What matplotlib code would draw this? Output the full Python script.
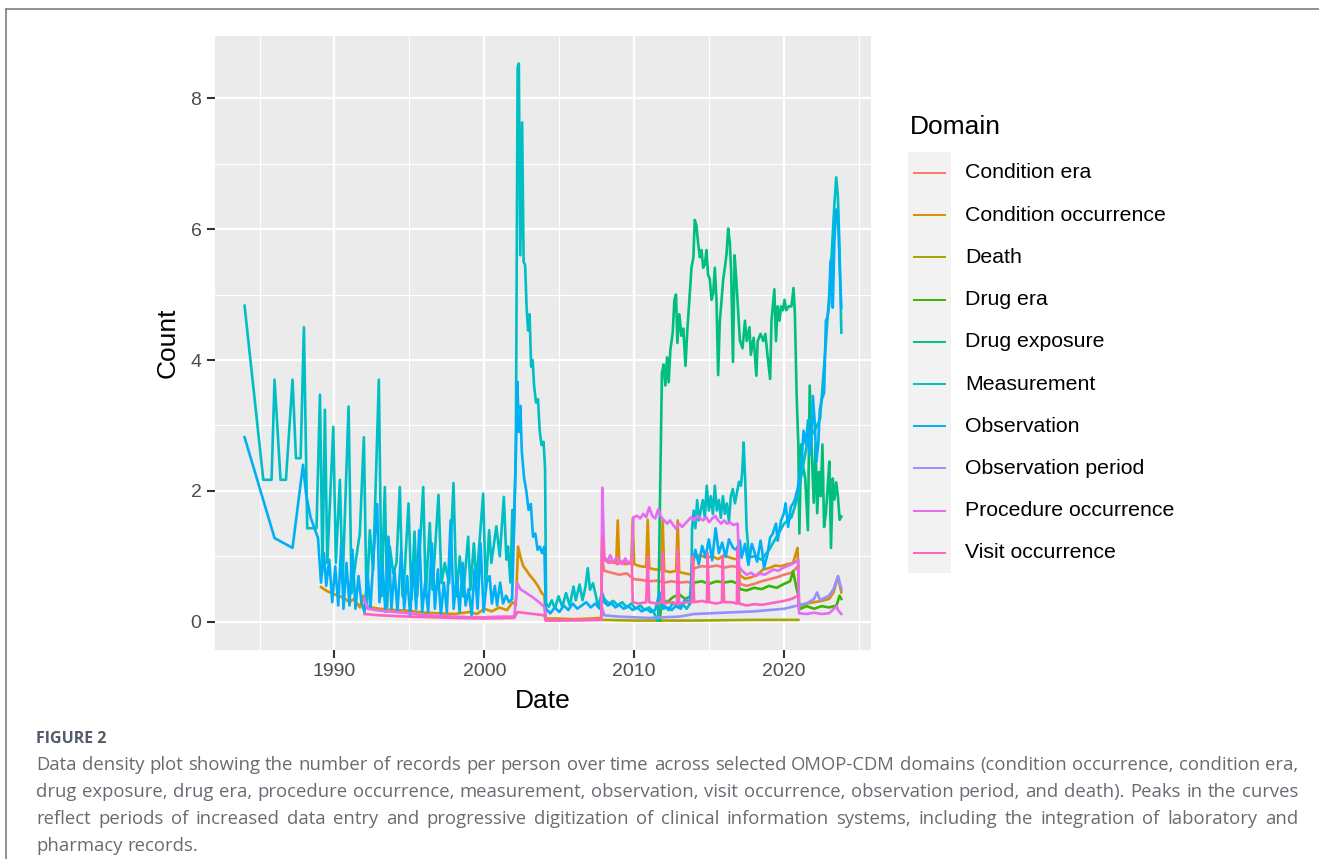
"""
Data density plot (records per person over time, OMOP-CDM domains)
"""
import matplotlib.pyplot as plt
from matplotlib.patches import Rectangle

# ---- data (decimal year, count) ----
condition_era = [
    (2007.87, 0.95), (2008.00, 0.78), (2008.50, 0.75), (2009.00, 0.72), (2009.50, 0.74),
    (2010.00, 0.65), (2010.50, 0.64), (2011.00, 0.62), (2011.50, 0.63), (2012.00, 0.60),
    (2012.50, 0.62), (2013.00, 0.60), (2013.50, 0.61), (2013.85, 0.60), (2014.00, 0.82),
    (2014.50, 0.85), (2015.00, 0.84), (2015.50, 0.86), (2016.00, 0.83), (2016.50, 0.85),
    (2016.95, 0.84), (2017.05, 0.58), (2017.50, 0.55), (2018.00, 0.58), (2018.50, 0.62),
    (2019.00, 0.65), (2019.50, 0.68), (2020.00, 0.72), (2020.50, 0.75), (2020.95, 0.85),
]

condition_occurrence = [
    (1989.10, 0.53), (1989.50, 0.47), (1990.00, 0.42), (1990.60, 0.37), (1991.00, 0.30),
    (1991.30, 0.35), (1991.70, 0.22), (1991.90, 0.40), (1992.10, 0.25), (1992.50, 0.22),
    (1993.00, 0.20), (1994.00, 0.18), (1995.00, 0.17), (1996.00, 0.14), (1997.00, 0.13),
    (1998.00, 0.12), (1999.00, 0.15), (1999.50, 0.12), (2000.00, 0.20), (2000.50, 0.16),
    (2001.00, 0.22), (2001.50, 0.18), (2001.90, 0.30), (2002.10, 0.25), (2002.25, 1.15),
    (2002.40, 1.00), (2002.60, 0.85), (2002.80, 0.79), (2003.00, 0.72), (2003.30, 0.64),
    (2003.60, 0.54), (2003.80, 0.45), (2004.00, 0.40), (2004.10, 0.05), (2005.00, 0.05),
    (2006.00, 0.04), (2007.00, 0.05), (2007.80, 0.06), (2007.87, 1.37), (2008.00, 0.95),
    (2008.40, 0.92), (2008.80, 0.90), (2008.90, 1.55), (2009.00, 0.92), (2009.40, 0.88),
    (2009.80, 0.90), (2009.90, 1.58), (2010.00, 0.88), (2010.40, 0.85), (2010.80, 0.84),
    (2010.90, 1.56), (2011.00, 0.82), (2011.40, 0.80), (2011.80, 0.80), (2011.90, 1.55),
    (2012.00, 0.78), (2012.40, 0.76), (2012.80, 0.78), (2012.90, 1.55), (2013.00, 0.76),
    (2013.40, 0.74), (2013.85, 0.72), (2014.00, 0.98), (2014.40, 1.02), (2014.80, 0.98),
    (2015.20, 1.00), (2015.60, 0.96), (2016.00, 1.02), (2016.40, 0.98), (2016.90, 0.95),
    (2017.05, 0.71), (2017.40, 0.66), (2017.80, 0.68), (2018.20, 0.72), (2018.60, 0.80),
    (2019.00, 0.82), (2019.40, 0.86), (2019.80, 0.85), (2020.20, 0.88), (2020.60, 0.90),
    (2020.90, 1.13), (2021.00, 0.24), (2021.50, 0.28), (2022.00, 0.30), (2022.50, 0.32),
    (2023.00, 0.35), (2023.30, 0.45), (2023.60, 0.69), (2023.70, 0.58), (2023.82, 0.45),
]

death = [
    (2007.87, 0.03), (2010.00, 0.02), (2014.00, 0.02), (2018.00, 0.03), (2020.95, 0.03),
]

drug_era = [
    (2011.70, 0.02), (2011.85, 0.35), (2012.20, 0.30), (2012.60, 0.38), (2013.00, 0.42),
    (2013.40, 0.35), (2013.85, 0.40), (2014.00, 0.60), (2014.50, 0.62), (2015.00, 0.58),
    (2015.50, 0.62), (2016.00, 0.60), (2016.50, 0.62), (2016.95, 0.58), (2017.05, 0.50),
    (2017.50, 0.48), (2018.00, 0.52), (2018.50, 0.50), (2019.00, 0.55), (2019.50, 0.52),
    (2020.00, 0.58), (2020.40, 0.62), (2020.60, 0.77), (2020.80, 0.55), (2020.95, 0.40),
    (2021.00, 0.19), (2021.50, 0.24), (2022.00, 0.20), (2022.50, 0.24), (2023.00, 0.22),
    (2023.50, 0.25), (2023.70, 0.40), (2023.82, 0.35),
]

drug_exposure = [
    (2011.60, 0.02), (2011.85, 3.80), (2011.96, 3.93), (2012.08, 3.61), (2012.19, 4.04),
    (2012.30, 3.66), (2012.41, 4.15), (2012.57, 4.42), (2012.68, 4.92), (2012.79, 5.00),
    (2012.88, 4.26), (2013.01, 4.70), (2013.15, 4.37), (2013.28, 4.48), (2013.42, 3.91),
    (2013.55, 4.48), (2013.68, 4.92), (2013.82, 5.41), (2013.95, 5.57), (2014.04, 6.14),
    (2014.15, 6.06), (2014.26, 5.79), (2014.38, 5.57), (2014.49, 5.68), (2014.60, 5.41),
    (2014.71, 5.46), (2014.82, 5.68), (2014.93, 5.30), (2015.04, 5.24), (2015.16, 4.92),
    (2015.27, 5.02), (2015.38, 5.41), (2015.49, 4.92), (2015.60, 3.77), (2015.71, 4.59),
    (2015.83, 4.92), (2015.94, 5.24), (2016.05, 5.41), (2016.16, 5.62), (2016.27, 6.01),
    (2016.38, 5.79), (2016.47, 5.34), (2016.59, 3.97), (2016.70, 5.60), (2016.82, 5.20),
    (2016.93, 4.76), (2017.05, 4.30), (2017.23, 4.18), (2017.39, 4.60), (2017.51, 4.29),
    (2017.69, 4.50), (2017.78, 4.08), (2017.97, 4.34), (2018.15, 3.76), (2018.24, 4.29),
    (2018.43, 4.40), (2018.61, 4.29), (2018.75, 4.40), (2018.89, 4.08), (2019.07, 3.71),
    (2019.16, 4.60), (2019.35, 5.08), (2019.46, 4.29), (2019.57, 4.82), (2019.69, 4.60),
    (2019.80, 4.82), (2019.92, 4.76), (2020.03, 4.92), (2020.15, 4.76), (2020.31, 4.82),
    (2020.49, 4.82), (2020.63, 5.10), (2020.72, 4.71), (2020.84, 3.45), (2020.95, 2.71),
    (2021.02, 1.35), (2021.14, 2.71), (2021.25, 2.40), (2021.41, 2.19), (2021.59, 1.40),
    (2021.71, 3.61), (2021.87, 2.45), (2021.98, 1.82), (2022.10, 2.71), (2022.21, 1.66),
    (2022.33, 2.29), (2022.44, 1.92), (2022.56, 2.71), (2022.67, 1.45), (2022.79, 1.66),
    (2022.90, 2.03), (2023.02, 2.45), (2023.13, 1.13), (2023.25, 2.19), (2023.36, 1.87),
    (2023.48, 2.13), (2023.59, 1.92), (2023.71, 1.56), (2023.82, 1.61),
]

measurement = [
    (1984.00, 4.83), (1985.25, 2.17), (1985.80, 2.17), (1986.00, 3.70), (1986.40, 2.17),
    (1986.76, 2.17), (1987.20, 3.70), (1987.43, 2.50), (1987.74, 2.50), (1987.96, 4.50),
    (1988.18, 1.43), (1988.80, 1.43), (1989.03, 3.47), (1989.20, 0.80), (1989.36, 3.24),
    (1989.52, 0.90), (1989.92, 2.98), (1990.09, 0.90), (1990.36, 2.17), (1990.54, 0.59),
    (1990.94, 3.29), (1991.14, 0.44), (1991.43, 0.95), (1991.69, 1.35), (1991.96, 2.82),
    (1992.14, 0.28), (1992.36, 1.40), (1992.58, 0.79), (1992.96, 3.70), (1993.14, 0.39),
    (1993.36, 2.06), (1993.52, 0.23), (1993.69, 1.15), (1993.92, 0.74), (1994.14, 0.90),
    (1994.36, 2.06), (1994.54, 0.39), (1994.69, 0.79), (1994.94, 1.81), (1995.14, 0.34),
    (1995.34, 1.38), (1995.52, 0.39), (1995.92, 2.06), (1996.09, 0.39), (1996.36, 1.51),
    (1996.54, 0.49), (1996.94, 1.94), (1997.14, 0.59), (1997.36, 0.90), (1997.65, 0.59),
    (1997.94, 2.12), (1998.14, 0.39), (1998.36, 1.00), (1998.58, 0.39), (1998.92, 1.30),
    (1999.07, 0.49), (1999.30, 1.20), (1999.47, 0.59), (1999.92, 1.96), (2000.09, 0.49),
    (2000.32, 1.40), (2000.47, 0.90), (2000.80, 1.46), (2001.03, 1.00), (2001.30, 1.91),
    (2001.47, 0.95), (2001.58, 1.15), (2001.74, 0.60), (2001.87, 1.71), (2001.96, 1.35),
    (2002.10, 2.50), (2002.22, 8.47), (2002.30, 8.53), (2002.40, 5.60), (2002.52, 7.63),
    (2002.62, 5.50), (2002.72, 5.45), (2002.82, 4.80), (2002.92, 4.45), (2003.02, 4.70),
    (2003.12, 3.90), (2003.22, 4.00), (2003.32, 3.60), (2003.45, 3.35), (2003.58, 3.40),
    (2003.70, 2.90), (2003.82, 2.70), (2003.95, 2.75), (2004.05, 2.35), (2004.12, 0.28),
    (2004.30, 0.23), (2004.50, 0.33), (2004.70, 0.20), (2004.95, 0.39), (2005.20, 0.23),
    (2005.45, 0.44), (2005.70, 0.25), (2005.95, 0.54), (2006.10, 0.33), (2006.35, 0.57),
    (2006.55, 0.33), (2006.75, 0.54), (2006.90, 0.82), (2007.05, 0.49), (2007.25, 0.59),
    (2007.45, 0.39), (2007.60, 0.23), (2007.85, 0.45), (2008.00, 0.35), (2008.30, 0.28),
    (2008.60, 0.32), (2008.90, 0.25), (2009.20, 0.30), (2009.50, 0.22), (2009.80, 0.28),
    (2010.10, 0.20), (2010.40, 0.25), (2010.70, 0.18), (2011.00, 0.22), (2011.30, 0.15),
    (2011.55, 0.02), (2011.70, 0.20), (2012.00, 0.25), (2012.30, 0.18), (2012.60, 0.30),
    (2012.90, 0.22), (2013.20, 0.28), (2013.50, 0.20), (2013.80, 0.30), (2013.86, 1.43),
    (2013.97, 1.70), (2014.08, 1.43), (2014.20, 1.86), (2014.31, 1.55), (2014.44, 1.70),
    (2014.58, 1.86), (2014.71, 1.59), (2014.84, 2.08), (2014.98, 1.70), (2015.11, 1.92),
    (2015.25, 1.65), (2015.38, 2.08), (2015.51, 1.70), (2015.65, 1.86), (2015.78, 1.59),
    (2015.92, 1.92), (2016.05, 1.65), (2016.18, 1.81), (2016.32, 1.54), (2016.45, 1.92),
    (2016.58, 2.03), (2016.72, 1.81), (2016.85, 1.97), (2016.99, 2.14), (2017.12, 2.08),
    (2017.21, 2.30), (2017.30, 2.74), (2017.40, 2.19), (2017.50, 1.43), (2017.66, 0.99),
    (2018.00, 1.00), (2018.50, 0.95), (2019.00, 1.10), (2019.50, 1.30), (2020.00, 1.50),
    (2020.50, 1.60), (2020.90, 1.90), (2021.20, 2.30), (2021.60, 2.80), (2022.00, 2.90),
    (2022.40, 3.10), (2022.80, 4.30), (2023.10, 5.30), (2023.36, 6.39), (2023.48, 6.79),
    (2023.59, 6.50), (2023.70, 5.70), (2023.82, 4.42),
]

observation = [
    (1984.00, 2.82), (1986.00, 1.28), (1987.20, 1.13), (1987.90, 2.40), (1988.10, 1.96),
    (1988.40, 1.60), (1988.90, 1.28), (1989.10, 0.60), (1989.30, 1.05), (1989.45, 0.55),
    (1989.65, 0.95), (1989.85, 0.30), (1990.05, 0.85), (1990.25, 0.25), (1990.45, 1.20),
    (1990.60, 0.20), (1990.80, 0.90), (1991.00, 0.25), (1991.20, 1.10), (1991.40, 0.20),
    (1991.60, 0.70), (1991.80, 0.30), (1992.00, 0.15), (1992.20, 0.75), (1992.40, 0.20),
    (1992.60, 1.00), (1992.85, 1.80), (1993.00, 0.30), (1993.20, 0.90), (1993.40, 0.15),
    (1993.60, 1.30), (1993.80, 0.20), (1994.00, 0.80), (1994.20, 0.15), (1994.45, 1.10),
    (1994.65, 0.20), (1994.85, 0.70), (1995.05, 0.10), (1995.25, 0.90), (1995.45, 0.20),
    (1995.65, 1.40), (1995.85, 0.15), (1996.05, 0.60), (1996.25, 0.15), (1996.50, 1.20),
    (1996.70, 0.20), (1996.90, 0.80), (1997.10, 0.10), (1997.30, 0.60), (1997.50, 0.15),
    (1997.75, 1.55), (1997.95, 0.20), (1998.15, 0.70), (1998.35, 0.15), (1998.55, 0.90),
    (1998.75, 0.25), (1998.95, 0.50), (1999.15, 0.10), (1999.35, 0.80), (1999.55, 0.20),
    (1999.75, 1.20), (1999.95, 0.15), (2000.15, 0.60), (2000.35, 0.70), (2000.50, 0.28),
    (2000.70, 0.55), (2000.85, 0.25), (2001.05, 0.60), (2001.25, 0.28), (2001.45, 0.40),
    (2001.65, 0.30), (2001.85, 0.35), (2002.00, 1.61), (2002.20, 3.67), (2002.30, 2.90),
    (2002.40, 3.30), (2002.50, 2.60), (2002.65, 2.20), (2002.80, 2.00), (2002.95, 1.71),
    (2003.10, 1.80), (2003.25, 1.30), (2003.40, 1.35), (2003.55, 1.10), (2003.70, 1.15),
    (2003.85, 1.05), (2004.00, 1.15), (2004.10, 0.20), (2004.40, 0.13), (2004.70, 0.22),
    (2005.00, 0.15), (2005.30, 0.25), (2005.60, 0.18), (2005.90, 0.28), (2006.20, 0.20),
    (2006.50, 0.25), (2006.80, 0.30), (2007.10, 0.22), (2007.40, 0.28), (2007.70, 0.20),
    (2007.85, 0.40), (2008.00, 0.30), (2008.25, 0.25), (2008.50, 0.28), (2008.75, 0.22),
    (2009.00, 0.26), (2009.30, 0.20), (2009.60, 0.24), (2009.90, 0.18), (2010.20, 0.22),
    (2010.50, 0.16), (2010.80, 0.20), (2011.10, 0.15), (2011.40, 0.18), (2011.70, 0.45),
    (2011.90, 0.20), (2012.20, 0.22), (2012.50, 0.18), (2012.80, 0.25), (2013.10, 0.20),
    (2013.40, 0.35), (2013.70, 0.28), (2013.86, 0.88), (2014.08, 1.10), (2014.31, 0.88),
    (2014.53, 1.16), (2014.76, 0.99), (2014.98, 1.26), (2015.20, 0.94), (2015.43, 1.43),
    (2015.65, 1.05), (2015.87, 1.21), (2016.10, 0.99), (2016.32, 1.26), (2016.59, 1.13),
    (2016.82, 1.10), (2017.05, 1.24), (2017.16, 0.98), (2017.39, 1.19), (2017.62, 0.87),
    (2017.85, 1.19), (2018.01, 1.08), (2018.20, 0.92), (2018.43, 1.24), (2018.54, 1.08),
    (2018.66, 0.82), (2018.89, 1.03), (2019.07, 1.29), (2019.23, 1.34), (2019.46, 1.50),
    (2019.57, 1.24), (2019.80, 1.55), (2019.99, 1.66), (2020.10, 1.81), (2020.27, 1.45),
    (2020.45, 1.76), (2020.61, 1.81), (2020.72, 1.87), (2020.90, 2.03), (2021.07, 2.29),
    (2021.18, 2.50), (2021.30, 2.92), (2021.46, 2.71), (2021.60, 3.08), (2021.69, 2.55),
    (2021.83, 2.82), (2021.92, 3.45), (2022.05, 3.03), (2022.15, 2.45), (2022.28, 2.71),
    (2022.38, 3.24), (2022.52, 3.40), (2022.67, 3.50), (2022.79, 4.60), (2022.90, 4.66),
    (2023.02, 4.87), (2023.09, 5.50), (2023.18, 5.55), (2023.25, 4.80), (2023.36, 5.84),
    (2023.48, 6.30), (2023.59, 6.25), (2023.70, 5.50), (2023.82, 4.80),
]

observation_period = [
    (2007.87, 0.20), (2008.00, 0.10), (2009.00, 0.08), (2010.00, 0.07), (2011.00, 0.06),
    (2012.00, 0.07), (2013.00, 0.08), (2014.00, 0.12), (2015.00, 0.13), (2016.00, 0.14),
    (2017.00, 0.15), (2018.00, 0.16), (2019.00, 0.18), (2020.00, 0.20), (2020.90, 0.25),
    (2021.00, 0.26), (2021.50, 0.28), (2022.00, 0.35), (2022.20, 0.45), (2022.40, 0.33),
    (2023.00, 0.40), (2023.30, 0.50), (2023.60, 0.70), (2023.82, 0.50),
]

procedure_occurrence = [
    (1992.00, 0.35), (1992.20, 0.20), (1993.00, 0.17), (1994.00, 0.15), (1995.00, 0.13),
    (1996.00, 0.10), (1997.00, 0.09), (1998.00, 0.08), (1999.00, 0.07), (2000.00, 0.07),
    (2001.00, 0.08), (2002.00, 0.08), (2002.20, 0.59), (2002.40, 0.50), (2002.80, 0.44),
    (2003.20, 0.38), (2003.60, 0.31), (2004.00, 0.23), (2004.10, 0.02), (2007.80, 0.03),
    (2007.87, 2.05), (2008.00, 1.00), (2008.20, 0.92), (2008.40, 1.02), (2008.60, 0.90),
    (2008.80, 0.98), (2009.00, 0.95), (2009.20, 0.88), (2009.40, 0.97), (2009.60, 0.90),
    (2009.85, 0.95), (2009.95, 1.60), (2010.20, 1.62), (2010.40, 1.58), (2010.60, 1.65),
    (2010.80, 1.60), (2011.00, 1.75), (2011.20, 1.62), (2011.40, 1.58), (2011.60, 1.72),
    (2011.80, 1.60), (2012.00, 1.55), (2012.20, 1.50), (2012.40, 1.55), (2012.60, 1.48),
    (2012.80, 1.42), (2013.00, 1.50), (2013.20, 1.45), (2013.40, 1.50), (2013.60, 1.55),
    (2013.80, 1.60), (2014.00, 1.55), (2014.20, 1.62), (2014.40, 1.58), (2014.60, 1.55),
    (2014.80, 1.60), (2015.00, 1.52), (2015.20, 1.58), (2015.40, 1.62), (2015.60, 1.55),
    (2015.80, 1.50), (2016.00, 1.55), (2016.20, 1.50), (2016.40, 1.52), (2016.60, 1.48),
    (2016.90, 1.50), (2017.00, 0.85), (2017.20, 0.78), (2017.50, 0.72), (2017.80, 0.75),
    (2018.10, 0.70), (2018.40, 0.74), (2018.70, 0.72), (2019.00, 0.76), (2019.30, 0.80),
    (2019.60, 0.78), (2019.90, 0.82), (2020.20, 0.85), (2020.50, 0.88), (2020.80, 0.92),
    (2020.95, 0.95), (2021.00, 0.13), (2021.50, 0.12), (2022.00, 0.14), (2022.50, 0.12),
    (2023.00, 0.13), (2023.50, 0.24), (2023.60, 0.18), (2023.82, 0.12),
]

visit_occurrence = [
    (1992.00, 0.12), (1993.00, 0.10), (1995.00, 0.08), (1998.00, 0.06), (2000.00, 0.05),
    (2002.00, 0.06), (2002.20, 0.15), (2004.00, 0.10), (2004.10, 0.02), (2007.80, 0.03),
    (2007.87, 1.30), (2008.00, 0.95), (2008.30, 0.90), (2008.60, 0.92), (2008.90, 0.88),
    (2009.20, 0.92), (2009.50, 0.90), (2009.85, 0.88), (2009.90, 0.30), (2010.30, 0.28),
    (2010.80, 0.30), (2010.90, 1.00), (2011.00, 0.30), (2011.50, 0.28), (2011.85, 0.30),
    (2011.90, 1.05), (2012.00, 0.28), (2012.50, 0.30), (2012.85, 0.27), (2012.90, 1.10),
    (2013.00, 0.28), (2013.50, 0.30), (2013.85, 0.30), (2013.90, 1.00), (2014.00, 0.30),
    (2014.50, 0.32), (2014.85, 0.30), (2014.90, 1.05), (2015.00, 0.30), (2015.50, 0.28),
    (2015.85, 0.30), (2015.90, 1.00), (2016.00, 0.30), (2016.50, 0.30), (2016.85, 0.28),
    (2016.90, 1.10), (2017.00, 0.28), (2017.50, 0.25), (2018.00, 0.27), (2018.50, 0.26),
    (2019.00, 0.28), (2019.50, 0.30), (2020.00, 0.32), (2020.50, 0.35), (2020.95, 0.40),
]

domains = ['Condition era', 'Condition occurrence', 'Death', 'Drug era', 'Drug exposure',
           'Measurement', 'Observation', 'Observation period', 'Procedure occurrence',
           'Visit occurrence']
series = [condition_era, condition_occurrence, death, drug_era, drug_exposure,
          measurement, observation, observation_period, procedure_occurrence,
          visit_occurrence]
colors = ['#F8766D', '#D89000', '#A3A500', '#39B600', '#00BF7D',
          '#00BFC4', '#00B0F6', '#9590FF', '#E76BF3', '#FF62BC']

caption_title = 'FIGURE 2'
caption_lines = [
    'Data density plot showing the number of records per person over time across selected '
    'OMOP-CDM domains (condition occurrence, condition era,',
    'drug exposure, drug era, procedure occurrence, measurement, observation, visit occurrence, '
    'observation period, and death). Peaks in the curves',
    'reflect periods of increased data entry and progressive digitization of clinical '
    'information systems, including the integration of laboratory and',
    'pharmacy records.',
]

W, H = 1319, 859
plt.rcParams['font.family'] = ['Liberation Sans', 'DejaVu Sans']

fig = plt.figure(figsize=(W / 100, H / 100), dpi=100)

# overlay in pixel coordinates for frame, legend and caption
over = fig.add_axes([0, 0, 1, 1])
over.set_xlim(0, W)
over.set_ylim(H, 0)
over.axis('off')

over.plot([5, W], [9, 9], color='#737373', lw=1.1, solid_capstyle='butt')
over.plot([5.5, 5.5], [9, H], color='#737373', lw=1.1, solid_capstyle='butt')

# ---- main panel ----
ax = fig.add_axes([214.6 / W, (H - 650) / H, (871 - 214.6) / W, (650 - 36) / H])
ax.set_facecolor('#EBEBEB')
for s in ax.spines.values():
    s.set_visible(False)

for data, col in zip(series, colors):
    t, v = zip(*data)
    ax.plot(t, v, color=col, lw=1.9, solid_joinstyle='round')

ax.set_xlim(1982.0, 2025.8)
ax.set_ylim(-0.43, 8.95)
ax.set_xticks([1990, 2000, 2010, 2020])
ax.set_xticks([1985, 1995, 2005, 2015, 2025], minor=True)
ax.set_yticks([0, 2, 4, 6, 8])
ax.set_yticks([1, 3, 5, 7], minor=True)
ax.grid(which='major', color='white', lw=1.7)
ax.grid(which='minor', color='white', lw=0.85)
ax.set_axisbelow(True)
ax.tick_params(which='major', length=5.5, width=1.5, color='#333333',
               labelsize=14, labelcolor='#4D4D4D', pad=4)
ax.tick_params(which='minor', length=0)
ax.set_xlabel('Date', fontsize=19, labelpad=6)
ax.set_ylabel('Count', fontsize=19, labelpad=8)

# ---- legend ----
over.text(910, 127, 'Domain', fontsize=19, va='center', ha='left')
over.add_patch(Rectangle((908, 152), 43, 421, facecolor='#F2F2F2', lw=0))
for i, (name, col) in enumerate(zip(domains, colors)):
    y = 173 + i * 42.2
    over.plot([913, 946], [y, y], color=col, lw=1.4, solid_capstyle='butt')
    over.text(965, y, name, fontsize=15.3, va='center', ha='left')

# ---- caption ----
cap_font = ['Open Sans', 'DejaVu Sans']
cap_x0, cap_x1 = 36, 1298
over.text(cap_x0, 739, caption_title, fontsize=11.5, fontweight='bold', family=cap_font,
          color='#535b68', va='center')

renderer = fig.canvas.get_renderer()

# pick the caption size so the first line fills the column with ordinary spacing
probe = over.text(0, 0, caption_lines[0], fontsize=10, family=cap_font)
cap_size = 10 * (cap_x1 - cap_x0 - 12) / probe.get_window_extent(renderer).width
probe.remove()


def justify(line, y, last=False):
    words = line.split()
    items = [over.text(0, y, w, fontsize=cap_size, family=cap_font, color='#676b72',
                       va='center', ha='left') for w in words]
    widths = [t.get_window_extent(renderer).width for t in items]
    space = cap_size * 100 / 72 * 0.26
    gap = space if last else (cap_x1 - cap_x0 - sum(widths)) / (len(words) - 1)
    x = cap_x0
    for t, w in zip(items, widths):
        t.set_x(x)
        x += w + gap


for i, line in enumerate(caption_lines):
    justify(line, 765 + i * 27, last=(i == len(caption_lines) - 1))

fig.savefig('out.png', dpi=100)
